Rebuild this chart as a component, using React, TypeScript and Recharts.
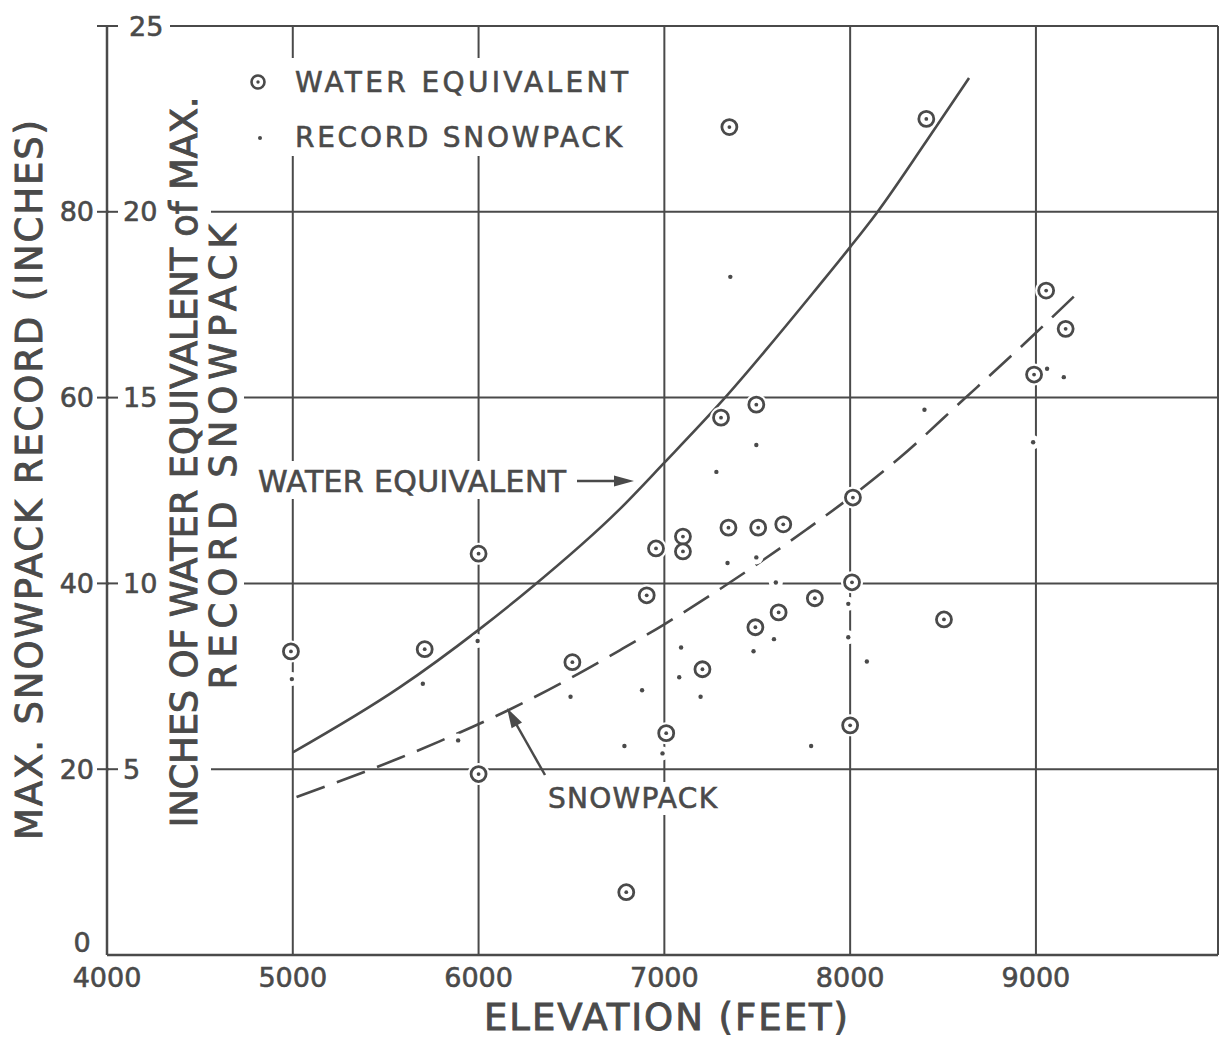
import React from 'react'
import {
  ComposedChart,
  XAxis,
  YAxis,
  CartesianGrid,
  Line,
  Scatter,
  ReferenceLine,
} from 'recharts'

const INK = '#4a4a4a'
const FONT = '"DejaVu Sans", Verdana, sans-serif'
const W = 1228
const H = 1039

// axis ticks
const elevationTicks = [4000, 5000, 6000, 7000, 8000, 9000]
const waterTicks = [0, 5, 10, 15, 20, 25]

// water equivalent of the max snowpack record (circles, inches of water)
const weElevation = [
  4990, 5710, 6000, 6000, 6505, 6795, 6905, 6955, 7010, 7100, 7100, 7205, 7305, 7350, 7345,
  7495, 7505, 7490, 7640, 7615, 7810, 8015, 8010, 8000, 8410, 8505, 8990, 9055, 9160,
]
const weInches = [
  8.17, 8.23, 10.8, 4.87, 7.88, 1.69, 9.68, 10.94, 5.97, 11.26, 10.86, 7.69, 14.46, 22.28, 11.5,
  14.81, 11.5, 8.82, 11.59, 9.22, 9.6, 12.31, 10.03, 6.18, 22.5, 9.03, 15.62, 17.88, 16.85,
]

// max record snowpack depth (dots, inches of snow)
const spElevation = [
  4995, 5700, 5890, 5995, 6495, 6785, 6880, 6990, 7090, 7080, 7195, 7280, 7355, 7340,
  7495, 7480, 7495, 7600, 7590, 7790, 7990, 7990, 8090, 8400, 8985, 9060, 9150,
]
const spInches = [
  29.7, 29.2, 23.1, 33.8, 27.8, 22.5, 28.5, 21.7, 33.1, 29.9, 27.8, 52.0, 73.0, 42.2,
  54.9, 32.7, 42.8, 40.1, 34.0, 22.5, 37.8, 34.2, 31.6, 58.7, 55.2, 63.1, 62.2,
]

// hand-drawn curves
const weCurveElevation = [5000, 5575, 6000, 6275, 6760, 7000, 7300, 7830, 8000, 8140, 8410, 8640]
const weCurveInches = [5.45, 7.2, 8.75, 9.85, 12.0, 13.25, 14.85, 18.0, 19.05, 19.95, 21.9, 23.6]
const spCurveElevation = [5020, 5575, 5790, 6165, 6475, 6760, 7000, 7300, 7765, 8010, 8265, 8600, 8980, 9205]
const spCurveInches = [17.0, 21.2, 23.0, 26.4, 29.6, 32.8, 35.6, 39.4, 45.8, 49.4, 53.5, 59.6, 66.6, 70.9]

const zip = (xs: number[], ys: number[]) => xs.map((x, i) => ({ x, y: ys[i] }))

const weData = zip(weElevation, weInches)
const spData = zip(spElevation, spInches)
const weCurve = zip(weCurveElevation, weCurveInches)
const spCurve = zip(spCurveElevation, spCurveInches)

// lettering is drawn a little heavier, like the pen on the original
const txt = { fill: INK, fontFamily: FONT, stroke: INK, strokeWidth: 0.6 } as const
const big = { ...txt, strokeWidth: 0.9 } as const

function WaterTick(props: any) {
  const { x, y, payload } = props
  const v = payload.value as number
  if (v === 0) {
    return (
      <text x={x - 25} y={y - 13} textAnchor="middle" dominantBaseline="central" fontSize={27} {...txt}>
        0
      </text>
    )
  }
  return (
    <g>
      <rect x={x + 2} y={y - 10} width={61} height={20} fill="#fff" />
      <line x1={x - 10} x2={x + 11} y1={y} y2={y} stroke={INK} strokeWidth={2} />
      {v < 25 && (
        <text x={x - 13} y={y} textAnchor="end" dominantBaseline="central" fontSize={27} {...txt}>
          {v * 4}
        </text>
      )}
      <text x={x + (v === 25 ? 22 : 16)} y={y} textAnchor="start" dominantBaseline="central" fontSize={27} {...txt}>
        {v}
      </text>
    </g>
  )
}

function ElevationTick(props: any) {
  const { x, y, payload } = props
  return (
    <text x={x} y={y + 22} textAnchor="middle" dominantBaseline="central" fontSize={27} {...txt}>
      {payload.value}
    </text>
  )
}

const RingHalo = (p: any) => <circle cx={p.cx} cy={p.cy} r={11} fill="#fff" />
const Ring = (p: any) => (
  <g>
    <circle cx={p.cx} cy={p.cy} r={7.5} fill="#fff" stroke={INK} strokeWidth={2.8} />
    <circle cx={p.cx} cy={p.cy} r={1.9} fill={INK} />
  </g>
)
const DotHalo = (p: any) => <circle cx={p.cx} cy={p.cy} r={7} fill="#fff" />
const Dot = (p: any) => <circle cx={p.cx} cy={p.cy} r={2.2} fill={INK} />

export default function App() {
  return (
    <div style={{ position: 'absolute', left: 0, top: 0, width: W, height: H, background: '#fff', overflow: 'hidden' }}>
      <ComposedChart width={W} height={H} margin={{ top: 26, right: 10, bottom: 0, left: 0 }}>
        <CartesianGrid yAxisId="w" stroke={INK} strokeWidth={2} />
        <XAxis
          dataKey="x"
          type="number"
          domain={[4000, 9980]}
          ticks={elevationTicks}
          interval={0}
          height={84}
          tickSize={0}
          tickMargin={0}
          tickLine={false}
          axisLine={{ stroke: INK, strokeWidth: 2.5 }}
          tick={(p: any) => <ElevationTick {...p} />}
        />
        <YAxis
          yAxisId="w"
          dataKey="y"
          type="number"
          domain={[0, 25]}
          ticks={waterTicks}
          interval={0}
          width={107}
          tickSize={0}
          tickMargin={0}
          tickLine={false}
          axisLine={{ stroke: INK, strokeWidth: 2.5 }}
          tick={(p: any) => <WaterTick {...p} />}
        />
        <YAxis yAxisId="s" dataKey="y" type="number" domain={[0, 100]} width={0} hide />
        <ReferenceLine yAxisId="w" x={9980} stroke={INK} strokeWidth={2} />
        <Line
          yAxisId="w"
          data={weCurve}
          dataKey="y"
          type="monotone"
          stroke={INK}
          strokeWidth={2.6}
          dot={false}
          activeDot={false}
          isAnimationActive={false}
        />
        <Line
          yAxisId="s"
          data={spCurve}
          dataKey="y"
          type="monotone"
          stroke={INK}
          strokeWidth={2.6}
          strokeDasharray="30 13"
          dot={false}
          activeDot={false}
          isAnimationActive={false}
        />
        <Scatter yAxisId="w" data={weData} shape={RingHalo} isAnimationActive={false} />
        <Scatter yAxisId="s" data={spData} shape={DotHalo} isAnimationActive={false} />
        <Scatter yAxisId="w" data={weData} shape={Ring} isAnimationActive={false} />
        <Scatter yAxisId="s" data={spData} shape={Dot} isAnimationActive={false} />
      </ComposedChart>

      {/* lettering laid over the grid, as on the original drawing */}
      <svg width={W} height={H} style={{ position: 'absolute', left: 0, top: 0, pointerEvents: 'none' }}>
        <rect x={166} y={88} width={45} height={752} fill="#fff" />
        <rect x={206} y={218} width={38} height={478} fill="#fff" />
        <rect x={245} y={58} width={395} height={98} fill="#fff" />
        <rect x={252} y={461} width={322} height={38} fill="#fff" />
        <rect x={544} y={782} width={178} height={33} fill="#fff" />

        <text transform="translate(29,480) rotate(-90)" textAnchor="middle" dominantBaseline="central"
          fontSize={37} textLength={720} lengthAdjust="spacing" {...big}>
          MAX. SNOWPACK RECORD (INCHES)
        </text>
        <text transform="translate(184,462) rotate(-90)" textAnchor="middle" dominantBaseline="central"
          fontSize={37} textLength={731} lengthAdjust="spacing" {...big}>
          INCHES OF WATER EQUIVALENT of MAX.
        </text>
        <text transform="translate(223,457) rotate(-90)" textAnchor="middle" dominantBaseline="central"
          fontSize={37} textLength={465} lengthAdjust="spacing" {...big}>
          RECORD SNOWPACK
        </text>
        <text x={666} y={1017} textAnchor="middle" dominantBaseline="central" fontSize={37}
          textLength={364} lengthAdjust="spacing" {...big}>
          ELEVATION (FEET)
        </text>

        {/* legend */}
        <circle cx={258} cy={82} r={6.5} fill="#fff" stroke={INK} strokeWidth={2.6} />
        <circle cx={258} cy={82} r={1.7} fill={INK} />
        <text x={295} y={82} dominantBaseline="central" fontSize={28} textLength={333} lengthAdjust="spacing" {...txt}>
          WATER EQUIVALENT
        </text>
        <circle cx={260} cy={138} r={2} fill={INK} />
        <text x={295} y={137} dominantBaseline="central" fontSize={28} textLength={327} lengthAdjust="spacing" {...txt}>
          RECORD SNOWPACK
        </text>

        {/* curve call-outs */}
        <text x={258} y={481} dominantBaseline="central" fontSize={30} textLength={308} lengthAdjust="spacing" {...txt}>
          WATER EQUIVALENT
        </text>
        <line x1={577} y1={481} x2={620} y2={481} stroke={INK} strokeWidth={2.5} />
        <polygon points="614,475.5 634,481 614,486.5" fill={INK} />
        <text x={548} y={798} dominantBaseline="central" fontSize={28} textLength={169} lengthAdjust="spacing" {...txt}>
          SNOWPACK
        </text>
        <line x1={545} y1={775} x2={515} y2={722} stroke={INK} strokeWidth={2.5} />
        <polygon points="507,708 522,722.5 511.6,728.3" fill={INK} />
      </svg>
    </div>
  )
}
